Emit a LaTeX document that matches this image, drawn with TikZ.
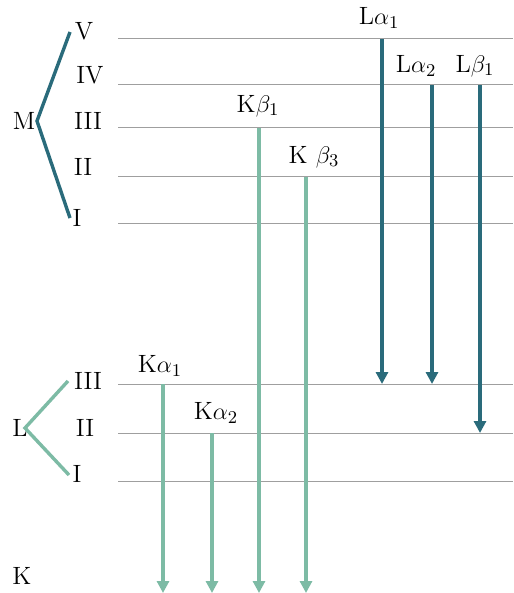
\documentclass[tikz,border=0pt]{standalone}
\usepackage{amsmath,amssymb}
\usepackage{xcolor}
\usepackage{tikz}
\usetikzlibrary{arrows.meta, positioning, calc}

\definecolor{ldark}{HTML}{2A6B7B}
\definecolor{klight}{HTML}{7DBBA5}

\begin{document}
\begin{tikzpicture}[
  x=0.5pt, y=-0.5pt,
  level/.style={draw=gray!75, line width=0.5pt},
  lab/.style={inner sep=1pt, font=\fontsize{12.5}{15}\selectfont},
  kline/.style={-{Triangle[length=6pt, width=6pt]}, klight, line width=1.6pt},
  lline/.style={-{Triangle[length=6pt, width=6pt]}, ldark, line width=1.6pt},
  shellM/.style={ldark, line width=1.7pt},
  shellL/.style={klight, line width=1.7pt}
]
\useasboundingbox (0,0) rectangle (513,593);
% shell labels
\node[lab] at (24,121) (M) {M};
\node[lab] at (20,428) (L) {L};
\node[lab] at (22,576) (K) {K};
\node[lab] at (84,31) (m5) {V};
\node[lab] at (90,75) (m4) {IV};
\node[lab] at (88,121) (m3) {III};
\node[lab] at (83,167) (m2) {II};
\node[lab] at (77,218) (m1) {I};
\node[lab] at (88,381) (l3) {III};
\node[lab] at (85,428) (l2) {II};
\node[lab] at (77,474) (l1) {I};
% brackets
\coordinate (mtop) at (70,32);
\coordinate (mtip) at (37,121);
\coordinate (mbot) at (70,218);
\coordinate (ltop) at (68,381);
\coordinate (ltip) at (25,428);
\coordinate (lbot) at (69,475);
\draw[shellM] (mtop) -- (mtip) -- (mbot);
\draw[shellL] (ltop) -- (ltip) -- (lbot);
% level lines
\coordinate (v5) at (118,39);  \coordinate (v5e) at (513,39);
\coordinate (v4) at (118,85);  \coordinate (v4e) at (513,85);
\coordinate (v3) at (118,128); \coordinate (v3e) at (513,128);
\coordinate (v2) at (118,177); \coordinate (v2e) at (513,177);
\coordinate (v1) at (118,223); \coordinate (v1e) at (513,223);
\coordinate (w3) at (118,384); \coordinate (w3e) at (513,384);
\coordinate (w2) at (118,433); \coordinate (w2e) at (513,433);
\coordinate (w1) at (118,481); \coordinate (w1e) at (513,481);
\draw[level] (v5) -- (v5e);
\draw[level] (v4) -- (v4e);
\draw[level] (v3) -- (v3e);
\draw[level] (v2) -- (v2e);
\draw[level] (v1) -- (v1e);
\draw[level] (w3) -- (w3e);
\draw[level] (w2) -- (w2e);
\draw[level] (w1) -- (w1e);
% K transitions
\coordinate (ka1s) at (163,384); \coordinate (ka1e) at (163,593);
\coordinate (ka2s) at (212,433); \coordinate (ka2e) at (212,593);
\coordinate (kb1s) at (259,128); \coordinate (kb1e) at (259,593);
\coordinate (kb3s) at (306,177); \coordinate (kb3e) at (306,593);
\node[lab] at (160,366) (ka1) {K$\alpha_1$};
\node[lab] at (216,413) (ka2) {K$\alpha_2$};
\node[lab] at (258,106) (kb1) {K$\beta_1$};
\node[lab] at (314,157) (kb3) {K $\beta_3$};
\draw[kline] (ka1s) -- (ka1e);
\draw[kline] (ka2s) -- (ka2e);
\draw[kline] (kb1s) -- (kb1e);
\draw[kline] (kb3s) -- (kb3e);
% L transitions
\coordinate (la1s) at (382,39); \coordinate (la1e) at (382,384);
\coordinate (la2s) at (432,85); \coordinate (la2e) at (432,384);
\coordinate (lb1s) at (480,85); \coordinate (lb1e) at (480,433);
\node[lab] at (379,18) (la1) {L$\alpha_1$};
\node[lab] at (416,66) (la2) {L$\alpha_2$};
\node[lab] at (475,66) (lb1) {L$\beta_1$};
\draw[lline] (la1s) -- (la1e);
\draw[lline] (la2s) -- (la2e);
\draw[lline] (lb1s) -- (lb1e);
\end{tikzpicture}
\end{document}
